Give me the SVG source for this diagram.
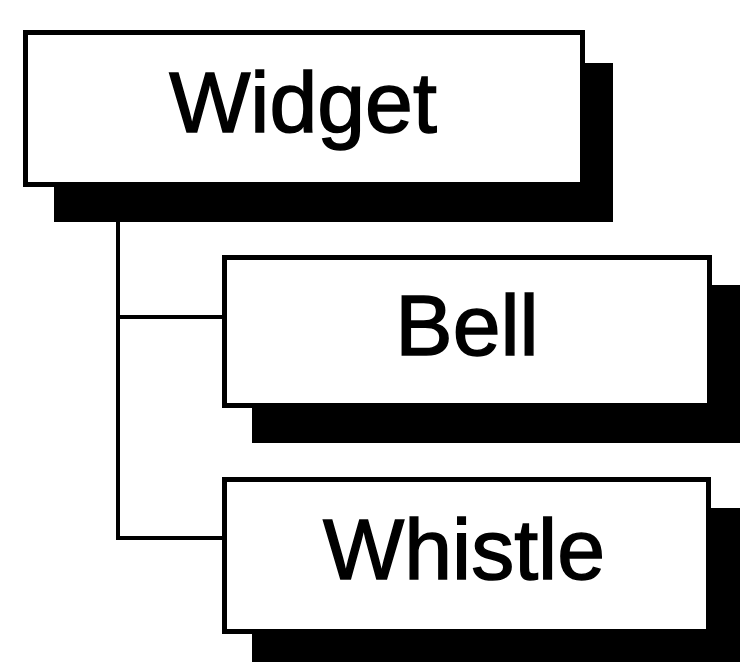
<svg xmlns="http://www.w3.org/2000/svg" width="740" height="662" viewBox="0 0 740 662">
<style>
.shadow{fill:#000}
.box{fill:#fff;stroke:#000;stroke-width:5}
.lbl{font-family:"Liberation Sans",Arial,sans-serif;font-size:86px;fill:#000;stroke:#000;stroke-width:1.5;text-anchor:middle}
.conn{fill:none;stroke:#000;stroke-width:4}
</style>
<rect width="740" height="662" fill="#fff"/>
<g id="connectors">
<path class="conn" d="M118,220 V538 H224 M118,317 H224"/>
</g>
<g id="widget">
<rect class="shadow" x="54" y="63" width="559" height="159"/>
<rect class="box" x="25.5" y="32.5" width="557" height="152"/>
<text class="lbl" x="303" y="132">Widget</text>
</g>
<g id="bell">
<rect class="shadow" x="252" y="285" width="500" height="158"/>
<rect class="box" x="224.5" y="257.5" width="485" height="148"/>
<text class="lbl" x="467" y="355">Bell</text>
</g>
<g id="whistle">
<rect class="shadow" x="252" y="508" width="500" height="170"/>
<rect class="box" x="224.5" y="479.5" width="484" height="152"/>
<text class="lbl" x="464" y="579">Whistle</text>
</g>
</svg>
